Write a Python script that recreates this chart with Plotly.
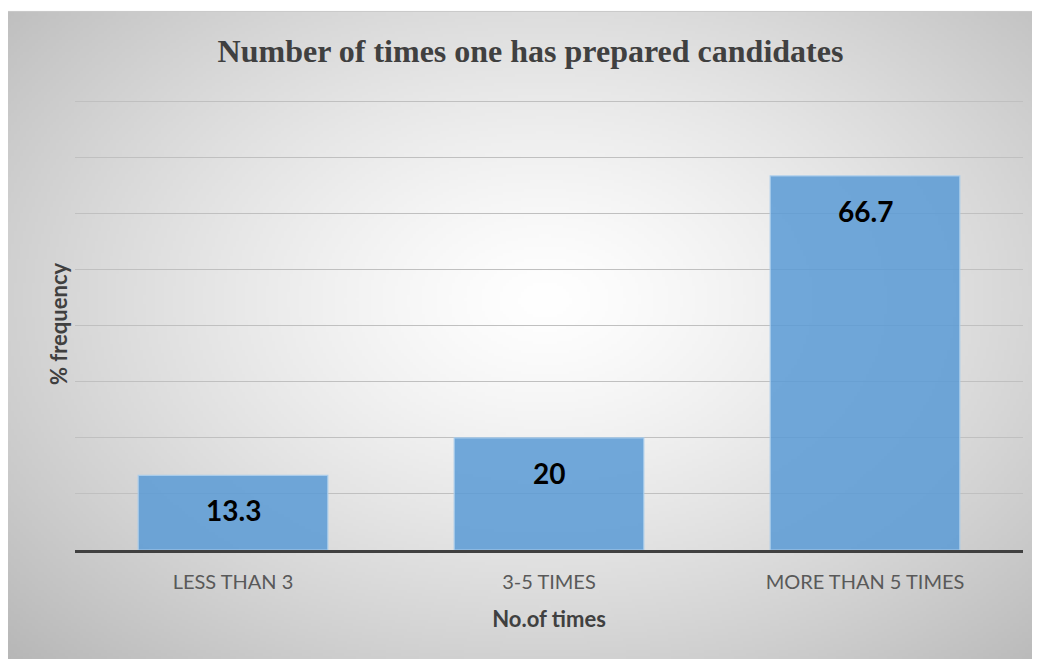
import base64, struct, zlib
import numpy as np
import plotly.graph_objects as go

categories = ["LESS THAN 3", "3-5 TIMES", "MORE THAN 5 TIMES"]
values = [13.3, 20, 66.7]
value_labels = ["13.3", "20", "66.7"]
title_text = "Number of times one has prepared candidates"
x_title = "No.of times"
y_title = "% frequency"

W, H = 1040, 659
OFF = 8  # page body margin offset
YMAX = 80.6
SCALE = (550 - 101) / 80.0
# plot area in page pixels
PL, PR, PB = 75, 1023, 550
PT = PB - YMAX * SCALE
# chart-area box (Excel chart frame) in page pixels
bx0, by0, bx1, by1 = 7, 11, 1038, 667


def px2x(p):
    return (p - PL) / (PR - PL)


def py2y(p):
    return (PB - p) / (PB - PT)


def make_png(w, h, cx, cy, rx, ry):
    ys, xs = np.mgrid[0:h, 0:w]
    px = bx0 + (xs + 0.5) / w * (bx1 - bx0)
    py = by0 + (ys + 0.5) / h * (by1 - by0)
    d = np.sqrt(((px - cx) / rx) ** 2 + ((py - cy) / ry) ** 2)
    v = 255 - 47 * np.power(d, 1.3)
    v = np.clip(v, 180, 255).astype(np.uint8)
    raw = b"".join(b"\x00" + v[r].tobytes() for r in range(h))

    def chunk(t, data):
        c = struct.pack(">I", len(data)) + t + data
        return c + struct.pack(">I", zlib.crc32(t + data) & 0xFFFFFFFF)

    png = b"\x89PNG\r\n\x1a\n"
    png += chunk(b"IHDR", struct.pack(">IIBBBBB", w, h, 8, 0, 0, 0, 0))
    png += chunk(b"IDAT", zlib.compress(raw, 9))
    png += chunk(b"IEND", b"")
    return "data:image/png;base64," + base64.b64encode(png).decode()


bg = make_png(344, 216, 545, 300, 540, 370)

fig = go.Figure()
fig.add_trace(go.Bar(
    x=categories,
    y=values,
    width=0.6,
    marker=dict(color="rgba(91,155,213,0.86)",
                line=dict(color="rgba(170,204,235,0.95)", width=1.2)),
    hoverinfo="skip",
))

for c, v, t in zip(categories, values, value_labels):
    fig.add_annotation(x=c, y=v, text=f"<b>{t}</b>", showarrow=False,
                       yanchor="top", yshift=-16,
                       font=dict(family="Lato", size=28, color="#000000"))

fig.add_layout_image(dict(
    source=bg, xref="paper", yref="paper",
    x=px2x(bx0), y=py2y(by0),
    sizex=(bx1 - bx0) / (PR - PL), sizey=(by1 - by0) / (PB - PT),
    xanchor="left", yanchor="top", sizing="stretch", layer="below",
))
fig.add_shape(type="rect", xref="paper", yref="paper", layer="below",
              x0=px2x(bx0), x1=px2x(bx1), y0=py2y(by0), y1=py2y(by1),
              line=dict(color="#c8c8c8", width=1), fillcolor="rgba(0,0,0,0)")

fig.update_layout(
    width=W, height=H,
    margin=dict(l=PL - OFF, r=W - PR + OFF, t=PT - OFF, b=H - PB + OFF, pad=0),
    paper_bgcolor="white",
    plot_bgcolor="rgba(0,0,0,0)",
    showlegend=False,
    bargap=0.4,
    title=dict(text=f"<b>{title_text}</b>", xref="container",
               x=(530.5 - OFF) / W, y=1 - (51 - OFF) / H,
               yanchor="middle", xanchor="center",
               font=dict(family="Liberation Serif", size=32, color="#404040")),
    xaxis=dict(
        showline=True, linecolor="#404040", linewidth=3,
        ticks="outside", ticklen=12, tickcolor="rgba(0,0,0,0)",
        tickfont=dict(family="Lato", size=20, color="#595959"),
        title=dict(text=f"<b>{x_title}</b>", standoff=20,
                   font=dict(family="Lato", size=22, color="#404040")),
        showgrid=False,
    ),
    yaxis=dict(
        range=[0, YMAX], tick0=0, dtick=10, showticklabels=False,
        showgrid=True, gridcolor="#c0c0c0", gridwidth=1,
        zeroline=False, showline=False,
        title=dict(text=f"<b>{y_title}</b>", standoff=0,
                   font=dict(family="Lato", size=22, color="#404040")),
    ),
)

fig.write_html("out.html")
